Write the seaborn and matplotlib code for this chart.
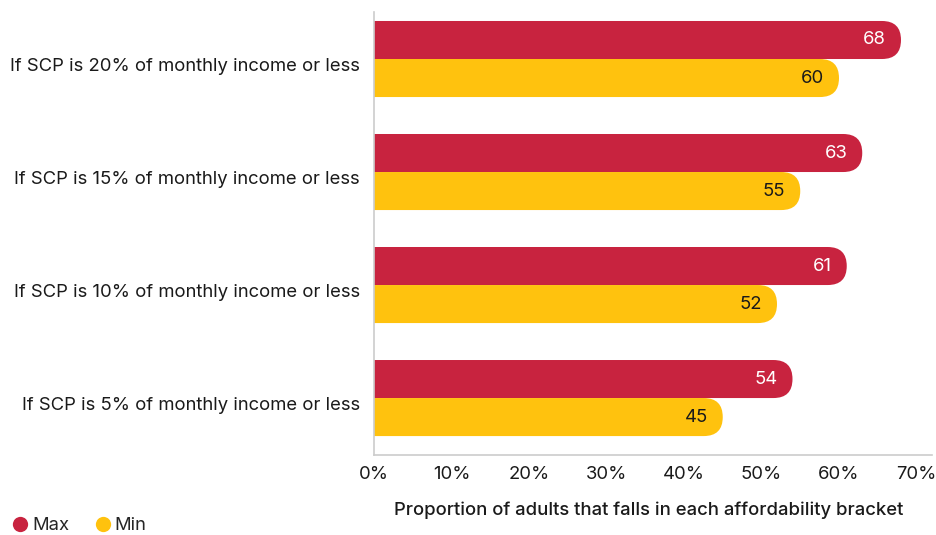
import matplotlib
matplotlib.use("Agg")
import matplotlib.pyplot as plt
import matplotlib.transforms as mtransforms
import seaborn as sns
import pandas as pd
from matplotlib.patches import FancyBboxPatch
from matplotlib.lines import Line2D

# Chart data
CATEGORIES = [
    "If SCP is 20% of monthly income or less",
    "If SCP is 15% of monthly income or less",
    "If SCP is 10% of monthly income or less",
    "If SCP is 5% of monthly income or less",
]
MAX_VALUES = [68, 63, 61, 54]
MIN_VALUES = [60, 55, 52, 45]
SERIES = ["Max", "Min"]
X_TICKS = [0, 10, 20, 30, 40, 50, 60, 70]

RED = "#C8233F"
YELLOW = "#FFC20E"
TEXT = "#1a1a1a"
FS = 13.3

sns.set_style("white")
plt.rcParams['font.family'] = ['Inter', 'DejaVu Sans']

df = pd.DataFrame({
    "Category": CATEGORIES * 2,
    "Value": MAX_VALUES + MIN_VALUES,
    "Series": [SERIES[0]] * len(CATEGORIES) + [SERIES[1]] * len(CATEGORIES),
})

fig = plt.figure(figsize=(9.36, 5.35), dpi=100)
ax = fig.add_axes([374 / 936, 80 / 535, 558 / 936, 443 / 535])

sns.barplot(data=df, y="Category", x="Value", hue="Series", orient="h",
            palette=[RED, YELLOW], width=0.673, ax=ax, legend=False,
            saturation=1)

ax.set_xlim(0, 72)
ax.set_ylim(3.504, -0.416)

# convert the plain bars into bars with a round right end
fig.canvas.draw()
px_x = ax.bbox.width / 72
px_y = ax.bbox.height / (3.504 + 0.416)
bars = list(ax.patches)
for bar in bars:
    x0, y0 = bar.get_x(), bar.get_y()
    w, h = bar.get_width(), bar.get_height()
    color = bar.get_facecolor()
    bar.remove()
    r_px = abs(h) * px_y / 2
    r_x = r_px / px_x
    aspect = (r_px / px_y) / r_x
    patch = FancyBboxPatch((x0 - r_x * 2, min(y0, y0 + h)), w + r_x * 2, abs(h),
                           boxstyle=f"round,pad=0,rounding_size={r_x}",
                           mutation_aspect=aspect, facecolor=color,
                           edgecolor="none", clip_on=True)
    ax.add_patch(patch)
    patch.set_clip_path(ax.patch)

    val = w
    yc = y0 + h / 2
    txt_color = "white" if tuple(color[:3]) == matplotlib.colors.to_rgb(RED) else TEXT
    ax.text(val - 15 / px_x, yc, f"{val:.0f}", ha="right", va="center",
            fontsize=FS, color=txt_color)

ax.set_xticks(X_TICKS)
ax.set_xticklabels([f"{t}%" for t in X_TICKS])
ax.tick_params(axis="x", length=0, pad=8, labelsize=FS, labelcolor=TEXT)
ax.tick_params(axis="y", length=0, pad=10, labelsize=FS, labelcolor=TEXT)

# y labels sit a little below the group centre in the reference
shift = mtransforms.ScaledTranslation(0, -5 / 100, fig.dpi_scale_trans)
for lbl in ax.get_yticklabels():
    lbl.set_transform(lbl.get_transform() + shift)

ax.set_ylabel("")
ax.set_xlabel("Proportion of adults that falls in each affordability bracket",
              fontsize=FS, fontweight="medium", color=TEXT)
ax.xaxis.set_label_coords(0.493, -0.106)

for side in ["top", "right"]:
    ax.spines[side].set_visible(False)
for side in ["left", "bottom"]:
    ax.spines[side].set_color("#cccccc")
    ax.spines[side].set_linewidth(1.2)

handles = [Line2D([0], [0], marker="o", color="none", markerfacecolor=c,
                  markeredgecolor="none", markersize=11) for c in [RED, YELLOW]]
fig.legend(handles, SERIES, loc="lower left", bbox_to_anchor=(-0.008, -0.03),
           ncol=2, frameon=False, fontsize=FS, handletextpad=0.05,
           columnspacing=1.2, handlelength=1.2)

fig.savefig("out.png", dpi=100)
